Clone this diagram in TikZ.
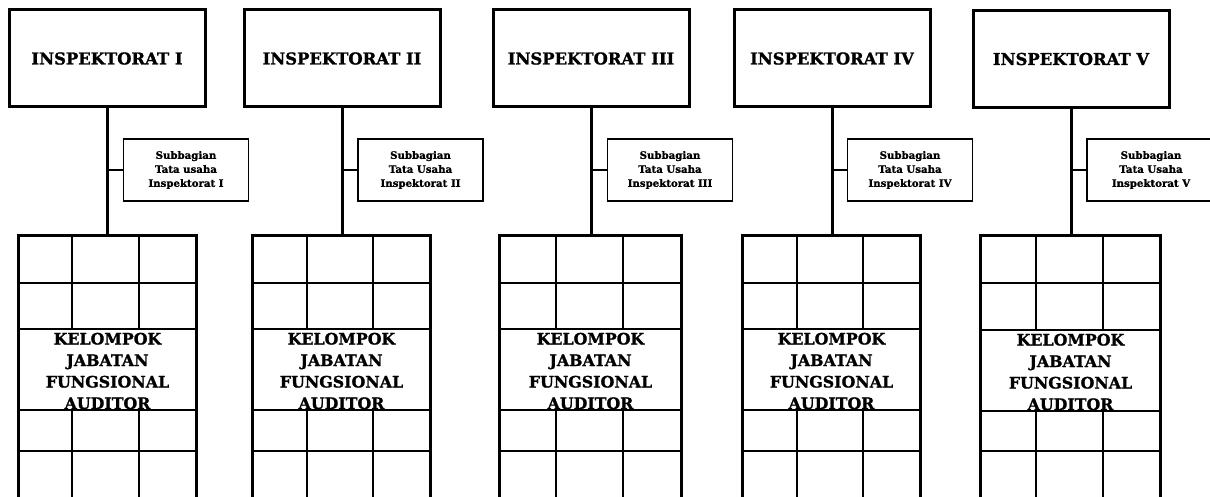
\documentclass[tikz,border=0pt]{standalone}
\usepackage{fontspec}
\setmainfont{DejaVu Serif}
\newfontfamily\heavyserif{DejaVu Serif Bold}[FakeBold=1.2]
\usepackage{tikz}
\usetikzlibrary{positioning}

\begin{document}
\begin{tikzpicture}[
  x=1pt, y=-1pt,
  insp/.style={draw, line width=3pt, minimum width=196pt, minimum height=97pt, inner sep=0pt, font=\fontsize{16.4}{20}\selectfont\heavyserif},
  subbox/.style={draw, line width=1.3pt, minimum width=125pt, minimum height=62pt, inner sep=0pt, align=center, font=\fontsize{10.2}{14}\selectfont\heavyserif},
  kel/.style={align=center, inner sep=0pt, font=\fontsize{15.8}{21.5}\selectfont\heavyserif},
  stem/.style={line width=3pt},
  tie/.style={line width=1.1pt},
  kelframe/.style={line width=3.4pt},
  cellline/.style={line width=1.8pt},
]
  \clip (0,0) rectangle (1210,497);

  % Inspektorat I
  \node[insp] (insp1) at (107,58.5) {INSPEKTORAT I};
  \node[subbox] (sub1) at (186,170) {Subbagian\\Tata usaha\\Inspektorat I};
  \coordinate (top1) at (107,235.5);
  \draw[cellline] (18.5,283) -- (196.5,283) (18.5,329) -- (196.5,329) (18.5,410) -- (196.5,410) (18.5,451) -- (196.5,451);
  \draw[cellline] (72,235.5) -- (72,329) (139,235.5) -- (139,329) (72,410) -- (72,497) (139,410) -- (139,497);
  \draw[kelframe] (18.5,497) |- (196.5,235.5) -- (196.5,497);
  \node[kel] (kel1) at (107.5,371) {KELOMPOK\\JABATAN\\FUNGSIONAL\\AUDITOR};
  \draw[stem] (insp1.south) -- (top1);
  \draw[tie] (sub1.west) -- (sub1.west -| insp1.south);

  % Inspektorat II
  \node[insp] (insp2) at (342,58.5) {INSPEKTORAT II};
  \node[subbox] (sub2) at (420.5,170) {Subbagian\\Tata Usaha\\Inspektorat II};
  \coordinate (top2) at (342,235.5);
  \draw[cellline] (252.5,283) -- (430.5,283) (252.5,329) -- (430.5,329) (252.5,410) -- (430.5,410) (252.5,451) -- (430.5,451);
  \draw[cellline] (307,235.5) -- (307,329) (373,235.5) -- (373,329) (307,410) -- (307,497) (373,410) -- (373,497);
  \draw[kelframe] (252.5,497) |- (430.5,235.5) -- (430.5,497);
  \node[kel] (kel2) at (341.5,371) {KELOMPOK\\JABATAN\\FUNGSIONAL\\AUDITOR};
  \draw[stem] (insp2.south) -- (top2);
  \draw[tie] (sub2.west) -- (sub2.west -| insp2.south);

  % Inspektorat III
  \node[insp] (insp3) at (591,58.5) {INSPEKTORAT III};
  \node[subbox] (sub3) at (670,170) {Subbagian\\Tata Usaha\\Inspektorat III};
  \coordinate (top3) at (591,235.5);
  \draw[cellline] (499.5,283) -- (681.5,283) (499.5,329) -- (681.5,329) (499.5,410) -- (681.5,410) (499.5,451) -- (681.5,451);
  \draw[cellline] (556,235.5) -- (556,329) (623,235.5) -- (623,329) (556,410) -- (556,497) (623,410) -- (623,497);
  \draw[kelframe] (499.5,497) |- (681.5,235.5) -- (681.5,497);
  \node[kel] (kel3) at (590.5,371) {KELOMPOK\\JABATAN\\FUNGSIONAL\\AUDITOR};
  \draw[stem] (insp3.south) -- (top3);
  \draw[tie] (sub3.west) -- (sub3.west -| insp3.south);

  % Inspektorat IV
  \node[insp] (insp4) at (832,58.5) {INSPEKTORAT IV};
  \node[subbox] (sub4) at (910,170) {Subbagian\\Tata Usaha\\Inspektorat IV};
  \coordinate (top4) at (832,235.5);
  \draw[cellline] (742.5,283) -- (920.5,283) (742.5,329) -- (920.5,329) (742.5,410) -- (920.5,410) (742.5,451) -- (920.5,451);
  \draw[cellline] (797,235.5) -- (797,329) (863,235.5) -- (863,329) (797,410) -- (797,497) (863,410) -- (863,497);
  \draw[kelframe] (742.5,497) |- (920.5,235.5) -- (920.5,497);
  \node[kel] (kel4) at (831.5,371) {KELOMPOK\\JABATAN\\FUNGSIONAL\\AUDITOR};
  \draw[stem] (insp4.south) -- (top4);
  \draw[tie] (sub4.west) -- (sub4.west -| insp4.south);

  % Inspektorat V
  \node[insp] (insp5) at (1071,59) {INSPEKTORAT V};
  \node[subbox, minimum width=128pt] (sub5) at (1151,170) {Subbagian\\Tata Usaha\\Inspektorat V};
  \coordinate (top5) at (1071,235.5);
  \draw[cellline] (980.5,283) -- (1160.5,283) (980.5,330) -- (1160.5,330) (980.5,411) -- (1160.5,411) (980.5,451) -- (1160.5,451);
  \draw[cellline] (1036,235.5) -- (1036,330) (1103,235.5) -- (1103,330) (1036,411) -- (1036,497) (1103,411) -- (1103,497);
  \draw[kelframe] (980.5,497) |- (1160.5,235.5) -- (1160.5,497);
  \node[kel] (kel5) at (1070.5,372) {KELOMPOK\\JABATAN\\FUNGSIONAL\\AUDITOR};
  \draw[stem] (insp5.south) -- (top5);
  \draw[tie] (sub5.west) -- (sub5.west -| insp5.south);
\end{tikzpicture}
\end{document}
